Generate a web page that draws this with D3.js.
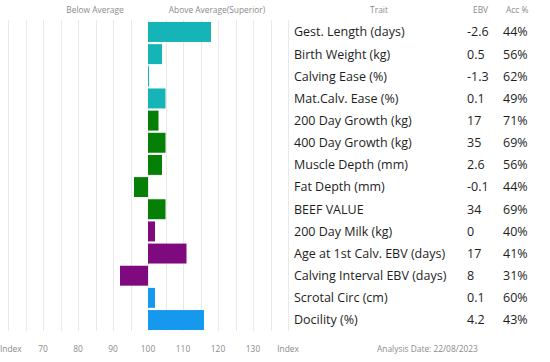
<!DOCTYPE html>
<html>
<head>
  <meta charset="utf-8">
  <style>
    html, body {
      margin: 0;
      padding: 0;
      background: #fff;
      width: 100%;
      height: 100%;
      overflow: hidden;
      font-family: "Open Sans", sans-serif;
    }
    svg { display: block; }
    .grid line { stroke: #e9e9e9; stroke-width: 1px; }
    .small { font-size: 8.4px; fill: #8a8a8a; }
    .trait { font-size: 12.5px; fill: #1e1e1e; }
  </style>
</head>
<body>
  <svg width="550" height="362"></svg>

  <script src="https://d3js.org/d3.v7.min.js"></script>
  <script>
    // chart data
    const traits = ["Gest. Length (days)", "Birth Weight (kg)", "Calving Ease (%)", "Mat.Calv. Ease (%)",
      "200 Day Growth (kg)", "400 Day Growth (kg)", "Muscle Depth (mm)", "Fat Depth (mm)", "BEEF VALUE",
      "200 Day Milk (kg)", "Age at 1st Calv. EBV (days)", "Calving Interval EBV (days)", "Scrotal Circ (cm)",
      "Docility (%)"];
    const indexValues = [118, 104, 100.3, 105, 103, 105, 104, 96, 105, 102, 111, 92, 102, 116];
    const ebvs = ["-2.6", "0.5", "-1.3", "0.1", "17", "35", "2.6", "-0.1", "34", "0", "17", "8", "0.1", "4.2"];
    const accs = ["44%", "56%", "62%", "49%", "71%", "69%", "56%", "44%", "69%", "40%", "41%", "31%", "60%", "43%"];
    const groups = ["calving", "calving", "calving", "calving", "growth", "growth", "growth", "growth", "growth",
      "maternal", "maternal", "maternal", "other", "other"];
    const tickValues = [60, 70, 80, 90, 100, 110, 120, 130, 140];

    const svg = d3.select("svg");

    const x = d3.scaleLinear().domain([60, 140]).range([8, 288]);
    const y = d3.scaleBand().domain(traits).range([22, 330]).paddingInner(0.1);
    const color = d3.scaleOrdinal()
      .domain(["calving", "growth", "maternal", "other"])
      .range(["#15b4b6", "#067f06", "#7f0a80", "#1698ef"]);

    const rows = traits.map((t, i) => ({
      trait: t, value: indexValues[i], ebv: ebvs[i], acc: accs[i], group: groups[i]
    }));

    // grid
    svg.append("g").attr("class", "grid")
      .selectAll("line")
      .data(d3.range(60, 141, 5))
      .join("line")
      .attr("x1", d => Math.round(x(d)) + 0.5)
      .attr("x2", d => Math.round(x(d)) + 0.5)
      .attr("y1", 20)
      .attr("y2", 331);

    // bars
    svg.append("g")
      .selectAll("rect")
      .data(rows)
      .join("rect")
      .attr("x", d => x(Math.min(100, d.value)))
      .attr("width", d => Math.abs(x(d.value) - x(100)))
      .attr("y", d => y(d.trait))
      .attr("height", y.bandwidth())
      .attr("fill", d => color(d.group));

    // top labels
    svg.append("text").attr("class", "small")
      .attr("x", 95).attr("y", 13).attr("text-anchor", "middle")
      .text("Below Average");
    svg.append("text").attr("class", "small")
      .attr("x", 217).attr("y", 13).attr("text-anchor", "middle")
      .text("Above Average(Superior)");

    // bottom axis
    svg.append("g")
      .selectAll("text")
      .data(tickValues)
      .join("text")
      .attr("class", "small")
      .attr("x", d => d === 60 ? 0 : x(d))
      .attr("y", 352)
      .attr("text-anchor", d => d === 60 ? "start" : "middle")
      .text(d => (d === 60 || d === 140) ? "Index" : d);

    svg.append("text").attr("class", "small")
      .attr("x", 377).attr("y", 352)
      .text("Analysis Date: 22/08/2023");

    // table headers
    svg.append("text").attr("class", "small").attr("x", 379).attr("y", 13)
      .attr("text-anchor", "middle").text("Trait");
    svg.append("text").attr("class", "small").attr("x", 473).attr("y", 13).text("EBV");
    svg.append("text").attr("class", "small").attr("x", 506).attr("y", 13).text("Acc %");

    // table rows
    const row = svg.append("g")
      .selectAll("g")
      .data(rows)
      .join("g")
      .attr("transform", d => `translate(0,${y(d.trait) + y.bandwidth() / 2})`);

    row.append("text").attr("class", "trait").attr("x", 294).attr("dy", "0.35em").text(d => d.trait);
    row.append("text").attr("class", "trait").attr("x", 467).attr("dy", "0.35em").text(d => d.ebv);
    row.append("text").attr("class", "trait").attr("x", 503).attr("dy", "0.35em").text(d => d.acc);
  </script>
</body>
</html>
